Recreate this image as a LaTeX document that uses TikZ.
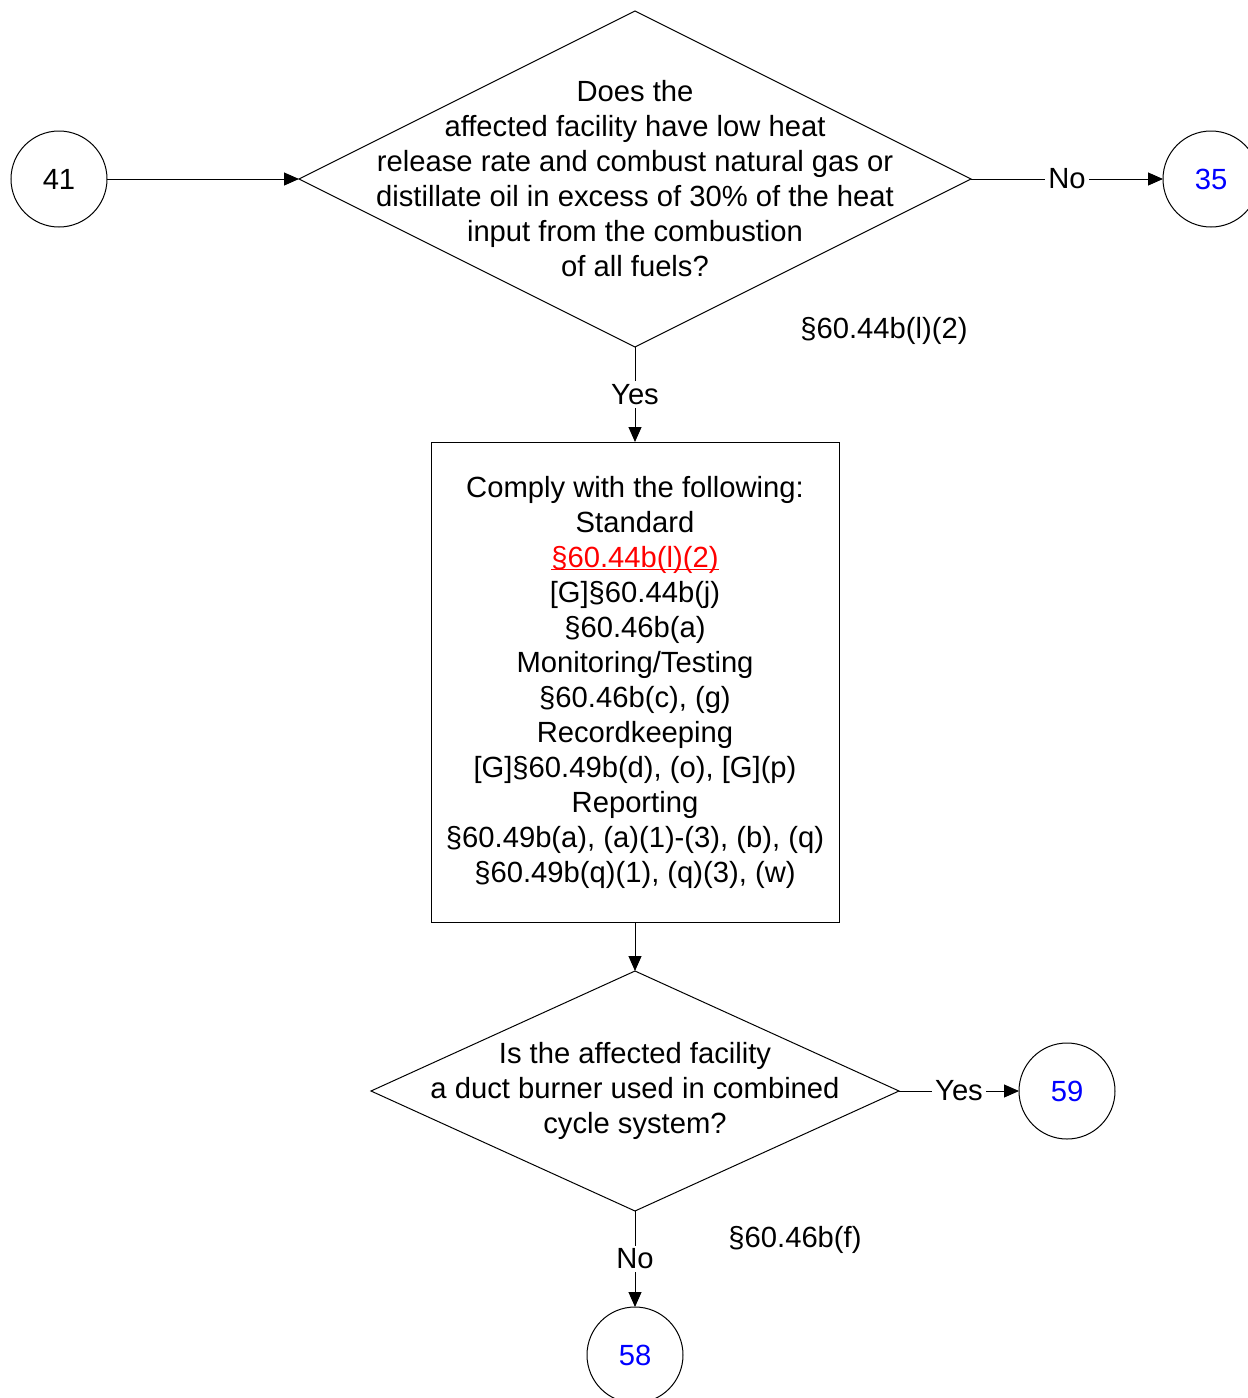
\documentclass[tikz,border=0pt]{standalone}
\usepackage{fontspec}
\setmainfont{Liberation Sans}
\usepackage{xcolor}
\usetikzlibrary{arrows.meta,shapes.geometric}
\definecolor{linkred}{RGB}{255,0,0}
\definecolor{refblue}{RGB}{0,0,255}
\newcommand{\reflink}[1]{\textcolor{linkred}{\setbox0\hbox{#1}\rlap{\rule[-1.6pt]{\wd0}{0.6pt}}\box0}}

\begin{document}
\begin{tikzpicture}[x=0.5pt,y=-0.5pt,font=\fontsize{14.6pt}{17.5pt}\selectfont,>={Triangle[length=7.5pt,width=6.5pt]},line width=0.5pt,
    dec/.style={diamond, draw, outer sep=0pt, inner sep=0pt},
    blk/.style={rectangle, draw, outer sep=0pt, align=center, inner sep=0pt},
    con/.style={circle, draw, outer sep=0pt, inner sep=0pt, minimum size=48pt},
    lbl/.style={fill=white, inner sep=1.5pt}]
  \useasboundingbox (0,0) rectangle (1248,1398);
  % ---------- first question ----------
  \node[con] (c41) at (59,179) {41};
  \node[dec, minimum width=336pt, minimum height=168pt,
        label={[name=q1t, align=center]center:{Does the\\affected facility have low heat\\release rate and combust natural gas or\\distillate oil in excess of 30\% of the heat\\input from the combustion\\of all fuels?}}] (q1) at (635,179) {};
  \node[con, text=refblue] (c35) at (1211,179) {35};
  \node (ref1) at (884,331) {§60.44b(l)(2)};
  % ---------- requirements ----------
  \node[blk, minimum width=204pt, minimum height=240pt] (comply) at (635,682)
     {Comply with the following:\\Standard\\\reflink{§60.44b(l)(2)}\\{[G]}§60.44b(j)\\§60.46b(a)\\Monitoring/Testing\\§60.46b(c), (g)\\Recordkeeping\\{[G]}§60.49b(d), (o), [G](p)\\Reporting\\§60.49b(a), (a)(1)-(3), (b), (q)\\§60.49b(q)(1), (q)(3), (w)};
  % ---------- second question ----------
  \node[dec, minimum width=264pt, minimum height=120pt,
        label={[name=q2t, align=center]center:{Is the affected facility\\a duct burner used in combined\\cycle system?}}] (q2) at (635,1091) {};
  \node[con, text=refblue] (c59) at (1067,1091) {59};
  \node[con, text=refblue] (c58) at (635,1355) {58};
  \node (ref2) at (795,1240) {§60.46b(f)};
  % ---------- connectors ----------
  \draw[->] (c41.east) -- (q1.west);
  \draw[->] (q1.east) -- node[lbl]{No} (c35.west);
  \draw[->] (q1.south) -- node[lbl]{Yes} (comply.north);
  \draw[->] (comply.south) -- (q2.north);
  \draw[->] (q2.east) -- node[lbl]{Yes} (c59.west);
  \draw[->] (q2.south) -- node[lbl]{No} (c58.north);
\end{tikzpicture}
\end{document}
